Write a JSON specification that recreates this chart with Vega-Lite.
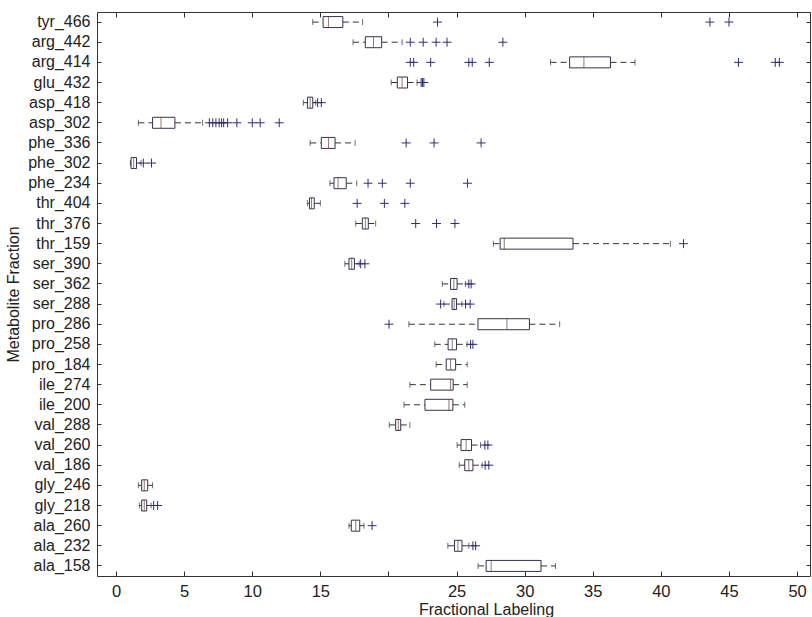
{
  "$schema": "https://vega.github.io/schema/vega-lite/v6.json",
  "width": 713,
  "height": 564,
  "autosize": {"type": "none"},
  "padding": {"left": 97, "top": 12, "right": 2, "bottom": 41},
  "background": "white",
  "config": {
    "view": {"stroke": "#333333", "strokeWidth": 1},
    "font": "Liberation Sans",
    "axis": {"grid": false, "labelColor": "#222222", "titleColor": "#222222", "tickColor": "#333333", "domainColor": "#333333", "labelFont": "Liberation Sans", "titleFont": "Liberation Sans", "titleFontWeight": "normal"}
  },
  "datasets": {
    "boxes": [
      {"name": "tyr_466", "lo": 14.44, "q1": 15.2, "med": 15.6, "q3": 16.65, "hi": 18.1},
      {"name": "arg_442", "lo": 17.4, "q1": 18.3, "med": 18.9, "q3": 19.5, "hi": 21.0},
      {"name": "arg_414", "lo": 31.9, "q1": 33.3, "med": 34.35, "q3": 36.3, "hi": 38.1},
      {"name": "glu_432", "lo": 20.2, "q1": 20.65, "med": 21.0, "q3": 21.4, "hi": 22.1},
      {"name": "asp_418", "lo": 13.75, "q1": 14.05, "med": 14.25, "q3": 14.44, "hi": 14.66},
      {"name": "asp_302", "lo": 1.64, "q1": 2.68, "med": 3.3, "q3": 4.32, "hi": 6.35},
      {"name": "phe_336", "lo": 14.25, "q1": 15.07, "med": 15.6, "q3": 16.08, "hi": 17.55},
      {"name": "phe_302", "lo": 1.05, "q1": 1.1, "med": 1.29, "q3": 1.5, "hi": 1.83},
      {"name": "phe_234", "lo": 15.7, "q1": 16.0, "med": 16.3, "q3": 16.9, "hi": 17.67},
      {"name": "thr_404", "lo": 14.05, "q1": 14.2, "med": 14.35, "q3": 14.55, "hi": 15.0},
      {"name": "thr_376", "lo": 17.6, "q1": 18.08, "med": 18.3, "q3": 18.52, "hi": 19.06},
      {"name": "thr_159", "lo": 27.7, "q1": 28.2, "med": 28.5, "q3": 33.55, "hi": 40.7},
      {"name": "ser_390", "lo": 16.8, "q1": 17.1, "med": 17.3, "q3": 17.5, "hi": 17.85},
      {"name": "ser_362", "lo": 23.95, "q1": 24.56, "med": 24.8, "q3": 25.04, "hi": 25.66},
      {"name": "ser_288", "lo": 24.07, "q1": 24.67, "med": 24.82, "q3": 25.0, "hi": 25.4},
      {"name": "pro_286", "lo": 21.5, "q1": 26.57, "med": 28.7, "q3": 30.35, "hi": 32.57},
      {"name": "pro_258", "lo": 23.4, "q1": 24.38, "med": 24.68, "q3": 25.0, "hi": 25.77},
      {"name": "pro_184", "lo": 23.5, "q1": 24.24, "med": 24.56, "q3": 24.93, "hi": 25.78},
      {"name": "ile_274", "lo": 21.57, "q1": 23.1, "med": 24.56, "q3": 24.75, "hi": 25.78},
      {"name": "ile_200", "lo": 21.14, "q1": 22.68, "med": 24.44, "q3": 24.73, "hi": 25.6},
      {"name": "val_288", "lo": 20.06, "q1": 20.53, "med": 20.72, "q3": 20.9, "hi": 21.57},
      {"name": "val_260", "lo": 25.04, "q1": 25.33, "med": 25.7, "q3": 26.1, "hi": 26.76},
      {"name": "val_186", "lo": 25.2, "q1": 25.6, "med": 25.9, "q3": 26.2, "hi": 26.88},
      {"name": "gly_246", "lo": 1.64, "q1": 1.88, "med": 2.07, "q3": 2.32, "hi": 2.68},
      {"name": "gly_218", "lo": 1.71, "q1": 1.88, "med": 2.07, "q3": 2.25, "hi": 2.57},
      {"name": "ala_260", "lo": 17.1, "q1": 17.27, "med": 17.6, "q3": 17.89, "hi": 18.2},
      {"name": "ala_232", "lo": 24.36, "q1": 24.85, "med": 25.1, "q3": 25.4, "hi": 25.9},
      {"name": "ala_158", "lo": 26.58, "q1": 27.17, "med": 27.54, "q3": 31.2, "hi": 32.26}
    ],
    "outliers": [
      {"name": "tyr_466", "v": 23.6}, {"name": "tyr_466", "v": 43.6}, {"name": "tyr_466", "v": 45.0},
      {"name": "arg_442", "v": 21.6}, {"name": "arg_442", "v": 22.55}, {"name": "arg_442", "v": 23.5}, {"name": "arg_442", "v": 24.3}, {"name": "arg_442", "v": 28.4},
      {"name": "arg_414", "v": 21.6}, {"name": "arg_414", "v": 21.85}, {"name": "arg_414", "v": 23.1}, {"name": "arg_414", "v": 25.9}, {"name": "arg_414", "v": 26.15}, {"name": "arg_414", "v": 27.4}, {"name": "arg_414", "v": 45.7}, {"name": "arg_414", "v": 48.4}, {"name": "arg_414", "v": 48.7},
      {"name": "glu_432", "v": 22.4}, {"name": "glu_432", "v": 22.5}, {"name": "glu_432", "v": 22.6},
      {"name": "asp_418", "v": 14.8}, {"name": "asp_418", "v": 15.07},
      {"name": "asp_302", "v": 6.85}, {"name": "asp_302", "v": 7.1}, {"name": "asp_302", "v": 7.33}, {"name": "asp_302", "v": 7.57}, {"name": "asp_302", "v": 7.75}, {"name": "asp_302", "v": 7.9}, {"name": "asp_302", "v": 8.19}, {"name": "asp_302", "v": 8.87}, {"name": "asp_302", "v": 10.0}, {"name": "asp_302", "v": 10.58}, {"name": "asp_302", "v": 11.98},
      {"name": "phe_336", "v": 21.3}, {"name": "phe_336", "v": 23.35}, {"name": "phe_336", "v": 26.8},
      {"name": "phe_302", "v": 2.0}, {"name": "phe_302", "v": 2.6},
      {"name": "phe_234", "v": 18.5}, {"name": "phe_234", "v": 19.55}, {"name": "phe_234", "v": 21.6}, {"name": "phe_234", "v": 25.8},
      {"name": "thr_404", "v": 17.7}, {"name": "thr_404", "v": 19.7}, {"name": "thr_404", "v": 21.2},
      {"name": "thr_376", "v": 22.0}, {"name": "thr_376", "v": 23.53}, {"name": "thr_376", "v": 24.88},
      {"name": "thr_159", "v": 41.66},
      {"name": "ser_390", "v": 17.96}, {"name": "ser_390", "v": 18.27},
      {"name": "ser_362", "v": 25.9}, {"name": "ser_362", "v": 26.07},
      {"name": "ser_288", "v": 23.83}, {"name": "ser_288", "v": 25.66}, {"name": "ser_288", "v": 26.0},
      {"name": "pro_286", "v": 20.04},
      {"name": "pro_258", "v": 26.03}, {"name": "pro_258", "v": 26.2},
      {"name": "val_260", "v": 27.08}, {"name": "val_260", "v": 27.3},
      {"name": "val_186", "v": 27.1}, {"name": "val_186", "v": 27.37},
      {"name": "gly_218", "v": 2.76}, {"name": "gly_218", "v": 3.05},
      {"name": "ala_260", "v": 18.8},
      {"name": "ala_232", "v": 26.2}, {"name": "ala_232", "v": 26.4}
    ]
  },
  "layer": [
    {
      "data": {"name": "boxes"},
      "encoding": {
        "y": {
          "field": "name", "type": "nominal",
          "scale": {"domain": ["tyr_466","arg_442","arg_414","glu_432","asp_418","asp_302","phe_336","phe_302","phe_234","thr_404","thr_376","thr_159","ser_390","ser_362","ser_288","pro_286","pro_258","pro_184","ile_274","ile_200","val_288","val_260","val_186","gly_246","gly_218","ala_260","ala_232","ala_158"], "paddingInner": 0, "paddingOuter": 0},
          "axis": {"orient": "left", "title": "Metabolite Fraction", "titleFontSize": 16, "titlePadding": 6, "labelFontSize": 16, "tickSize": -4, "labelPadding": 11, "domain": false}
        }
      },
      "layer": [
        {
          "mark": {"type": "rule", "color": "#333333", "strokeWidth": 1, "strokeDash": [6, 4]},
          "encoding": {
            "x": {"field": "lo", "type": "quantitative", "scale": {"domain": [-1.4, 50.95], "nice": false, "zero": false},
              "axis": {"orient": "bottom", "title": "Fractional Labeling", "titleFontSize": 16, "titleX": 389, "titleY": 25, "values": [0,5,10,15,20,25,30,35,40,45,50], "labelFontSize": 16.5, "tickSize": -5, "labelPadding": 12, "labelExpr": "datum.value == 20 ? '' : datum.label", "domain": false}},
            "x2": {"field": "q1"}
          }
        },
        {
          "mark": {"type": "rule", "color": "#333333", "strokeWidth": 1, "strokeDash": [6, 4]},
          "encoding": {"x": {"field": "q3", "type": "quantitative"}, "x2": {"field": "hi"}}
        },
        {
          "mark": {"type": "tick", "color": "#333333", "size": 6, "thickness": 1},
          "encoding": {"x": {"field": "lo", "type": "quantitative"}}
        },
        {
          "mark": {"type": "tick", "color": "#333333", "size": 6, "thickness": 1},
          "encoding": {"x": {"field": "hi", "type": "quantitative"}}
        },
        {
          "mark": {"type": "bar", "fill": "white", "stroke": "#33334d", "strokeWidth": 1, "size": 11},
          "encoding": {"x": {"field": "q1", "type": "quantitative"}, "x2": {"field": "q3"}}
        },
        {
          "mark": {"type": "tick", "color": "#6b3a3a", "size": 11, "thickness": 1},
          "encoding": {"x": {"field": "med", "type": "quantitative"}}
        }
      ]
    },
    {
      "data": {"name": "outliers"},
      "mark": {"type": "point", "shape": "M-1,0L1,0M0,-1L0,1", "filled": false, "stroke": "#2e2e7a", "strokeWidth": 1, "size": 80, "opacity": 1},
      "encoding": {
        "x": {"field": "v", "type": "quantitative",
          "axis": {"orient": "top", "title": null, "labels": false, "domain": false, "tickSize": -5, "values": [0,5,10,15,20,25,30,35,40,45,50]}},
        "y": {"field": "name", "type": "nominal",
          "axis": {"orient": "right", "title": null, "labels": false, "domain": false, "tickSize": -4}}
      }
    }
  ],
  "resolve": {"axis": {"x": "independent", "y": "independent"}}
}
